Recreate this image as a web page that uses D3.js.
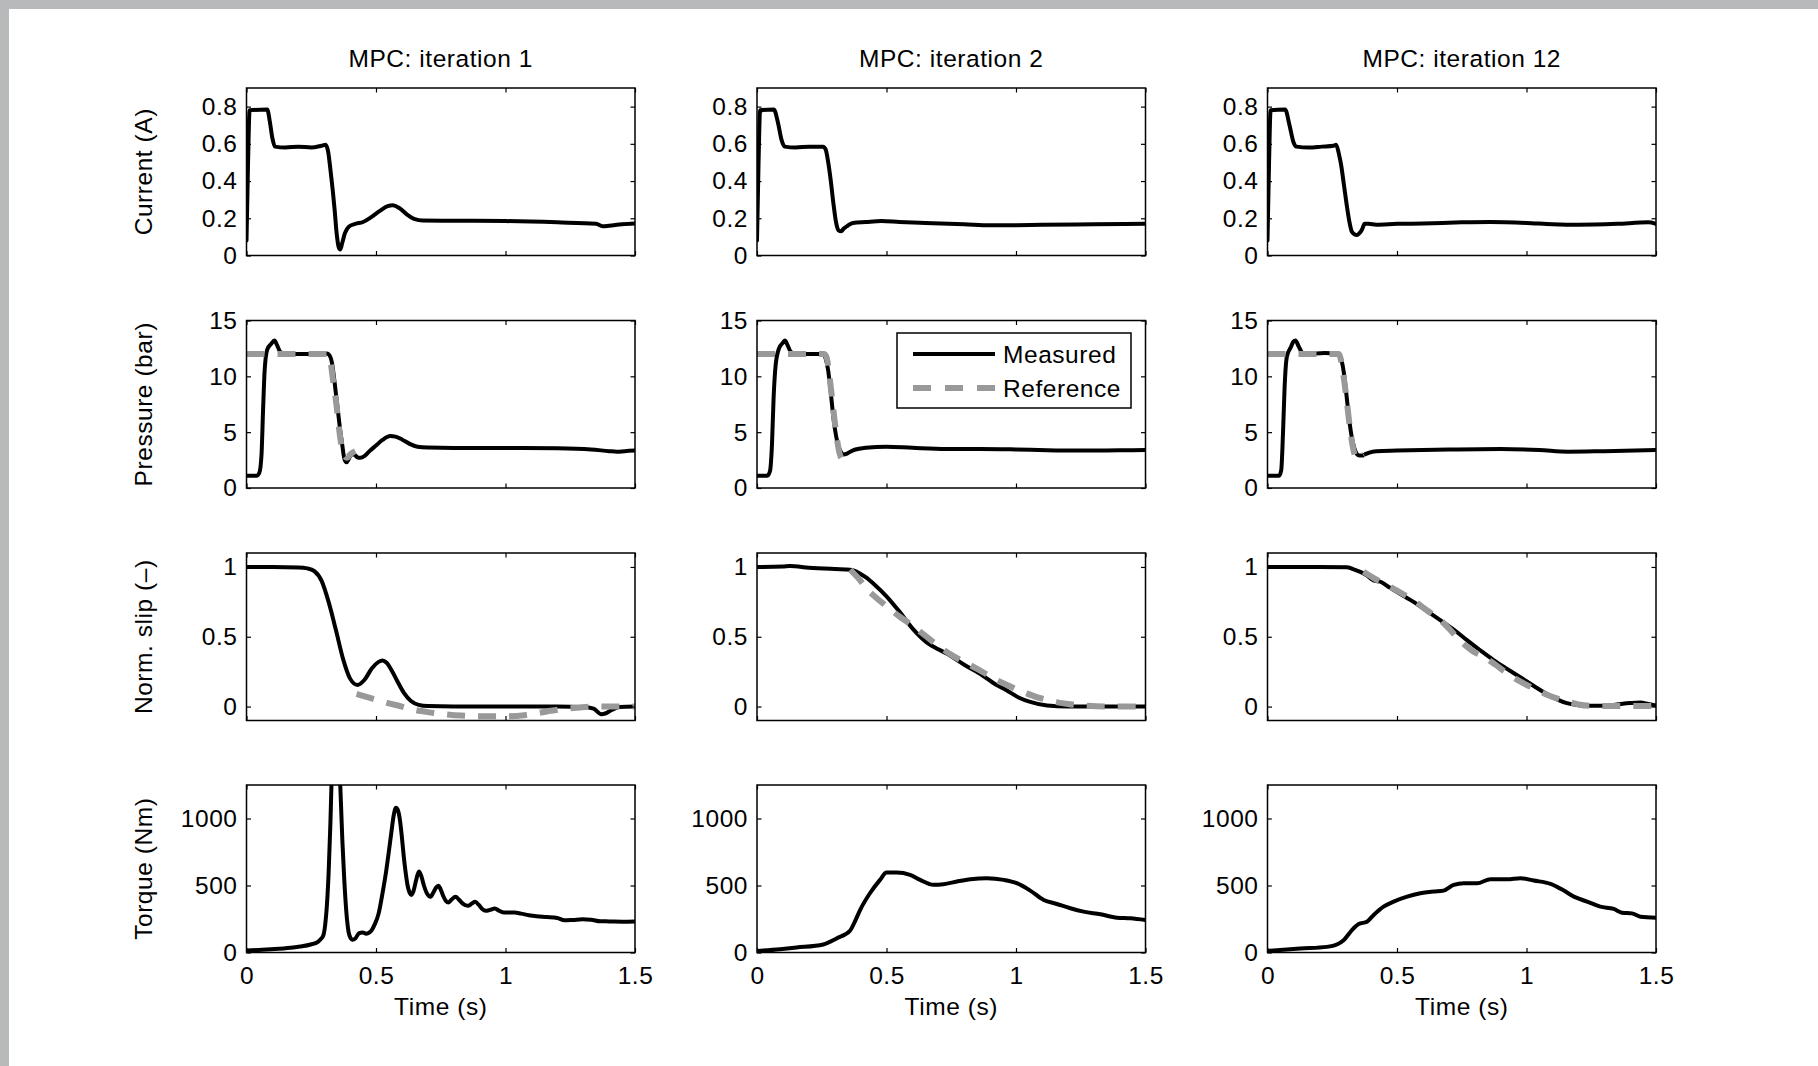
<!DOCTYPE html>
<html><head><meta charset="utf-8">
<script src="https://cdn.jsdelivr.net/npm/d3@7"></script>
<style>
html,body{margin:0;padding:0;background:#fff;}
svg{display:block;}
svg text{letter-spacing:0.55px;}
</style></head><body>
<svg id="chart" width="1818" height="1066"></svg>
<script>
// ---------- labels & ticks ----------
const columnTitles = ["MPC: iteration 1", "MPC: iteration 2", "MPC: iteration 12"];
const rowLabels = ["Current (A)", "Pressure (bar)", "Norm. slip (\u2013)", "Torque (Nm)"];
const timeLabel = "Time (s)";
const legendLabels = ["Measured", "Reference"];
const timeTicks = [0, 0.5, 1, 1.5];
const currentTicks = [0, 0.2, 0.4, 0.6, 0.8];
const pressureTicks = [0, 5, 10, 15];
const slipTicks = [0, 0.5, 1];
const torqueTicks = [0, 500, 1000];
const timeDomain = [0, 1.5];
const currentDomain = [0, 0.9];
const pressureDomain = [0, 15];
const slipDomain = [-0.1, 1.1];
const torqueDomain = [0, 1250];

// ---------- current (A) ----------
const current1 = [[0,0.08],[0.006,0.5],[0.012,0.78],[0.08,0.785],[0.09,0.72],[0.1,0.63],[0.11,0.585],[0.15,0.58],[0.2,0.585],[0.25,0.58],[0.29,0.59],[0.305,0.595],[0.315,0.56],[0.325,0.45],[0.333,0.35],[0.34,0.25],[0.348,0.12],[0.356,0.045],[0.362,0.032],[0.37,0.07],[0.38,0.12],[0.395,0.155],[0.42,0.17],[0.45,0.18],[0.48,0.205],[0.515,0.24],[0.545,0.265],[0.565,0.27],[0.59,0.255],[0.62,0.22],[0.65,0.195],[0.68,0.188],[0.8,0.187],[1.0,0.185],[1.2,0.178],[1.35,0.17],[1.375,0.157],[1.4,0.16],[1.45,0.168],[1.5,0.172]];
const current2 = [[0,0.08],[0.006,0.5],[0.012,0.78],[0.065,0.785],[0.08,0.72],[0.095,0.62],[0.107,0.585],[0.15,0.58],[0.2,0.585],[0.255,0.585],[0.265,0.57],[0.275,0.5],[0.285,0.4],[0.295,0.28],[0.305,0.18],[0.315,0.135],[0.325,0.13],[0.335,0.145],[0.35,0.16],[0.37,0.175],[0.42,0.18],[0.48,0.185],[0.55,0.18],[0.65,0.175],[0.8,0.168],[0.9,0.162],[1.0,0.163],[1.1,0.165],[1.3,0.168],[1.5,0.17]];
const current12 = [[0,0.08],[0.006,0.5],[0.012,0.78],[0.068,0.785],[0.085,0.7],[0.1,0.61],[0.112,0.585],[0.16,0.58],[0.21,0.585],[0.255,0.59],[0.265,0.595],[0.275,0.55],[0.285,0.48],[0.295,0.38],[0.305,0.28],[0.315,0.19],[0.325,0.13],[0.335,0.115],[0.345,0.11],[0.355,0.12],[0.365,0.14],[0.375,0.17],[0.39,0.17],[0.42,0.165],[0.5,0.17],[0.6,0.172],[0.75,0.178],[0.86,0.18],[1.0,0.175],[1.1,0.168],[1.2,0.165],[1.35,0.17],[1.47,0.178],[1.5,0.17]];

// ---------- pressure (bar) ----------
const pressure1 = [[0,1.1],[0.04,1.1],[0.05,1.4],[0.058,3],[0.064,7],[0.07,10.5],[0.08,12.4],[0.095,12.9],[0.108,13.2],[0.118,12.8],[0.13,12.2],[0.15,12.0],[0.25,12.0],[0.31,12.05],[0.32,11.9],[0.33,11.2],[0.34,9.5],[0.35,7.5],[0.36,5.5],[0.37,3.8],[0.378,2.6],[0.386,2.3],[0.395,2.6],[0.405,3.0],[0.415,3.0],[0.428,2.75],[0.44,2.7],[0.455,2.85],[0.475,3.3],[0.5,3.8],[0.525,4.3],[0.555,4.65],[0.575,4.6],[0.6,4.35],[0.63,3.95],[0.66,3.7],[0.7,3.62],[0.8,3.58],[1.0,3.58],[1.2,3.55],[1.33,3.45],[1.4,3.3],[1.43,3.25],[1.46,3.3],[1.5,3.35]];
const pressureRef1 = [[0,12],[0.315,12],[0.325,11.2],[0.335,9.5],[0.347,7.5],[0.358,5.2],[0.368,3.6],[0.378,2.9],[0.388,2.7],[0.4,3.0],[0.412,3.2],[0.42,3.3]];
const pressure2 = [[0,1.1],[0.04,1.1],[0.05,1.5],[0.058,4],[0.064,8],[0.072,11],[0.085,12.5],[0.1,13.0],[0.108,13.2],[0.118,12.8],[0.13,12.2],[0.15,12.0],[0.2,12.0],[0.255,12.0],[0.265,11.6],[0.275,10.5],[0.285,8.5],[0.295,6.3],[0.305,4.7],[0.315,3.7],[0.325,3.2],[0.335,3.0],[0.345,3.05],[0.36,3.25],[0.38,3.45],[0.42,3.6],[0.5,3.7],[0.6,3.6],[0.73,3.5],[0.86,3.5],[1.0,3.45],[1.12,3.38],[1.25,3.35],[1.4,3.38],[1.5,3.4]];
const pressureRef2 = [[0,12],[0.26,12],[0.27,11.6],[0.28,10],[0.29,8],[0.3,6],[0.31,4.2],[0.32,3.0],[0.33,2.6],[0.34,2.8],[0.355,3.2]];
const pressure12 = [[0,1.1],[0.045,1.1],[0.053,1.6],[0.06,5],[0.066,9],[0.075,11.8],[0.09,12.6],[0.1,13.1],[0.108,13.2],[0.12,12.7],[0.135,12.1],[0.15,12.0],[0.22,12.1],[0.275,12.0],[0.285,11.5],[0.295,10.3],[0.305,8.3],[0.315,6.2],[0.325,4.6],[0.335,3.6],[0.345,3.05],[0.355,2.9],[0.365,2.9],[0.375,3.0],[0.39,3.15],[0.42,3.3],[0.5,3.35],[0.7,3.45],[0.9,3.5],[1.05,3.4],[1.16,3.25],[1.3,3.3],[1.5,3.4]];
const pressureRef12 = [[0,12],[0.275,12],[0.285,11.3],[0.295,9.8],[0.305,8],[0.315,6],[0.325,4.3],[0.335,3.1],[0.345,2.6],[0.355,2.7],[0.365,2.9],[0.372,3.0]];

// ---------- normalised slip (-) ----------
const slip1 = [[0,1.0],[0.1,1.0],[0.2,0.997],[0.235,0.99],[0.262,0.97],[0.29,0.9],[0.317,0.75],[0.345,0.55],[0.373,0.34],[0.4,0.2],[0.428,0.155],[0.455,0.19],[0.483,0.27],[0.51,0.32],[0.525,0.33],[0.54,0.315],[0.56,0.26],[0.58,0.19],[0.607,0.1],[0.635,0.04],[0.665,0.012],[0.7,0.003],[0.8,0.0],[1.0,0.0],[1.2,0.0],[1.3,-0.003],[1.34,-0.015],[1.37,-0.055],[1.385,-0.05],[1.41,-0.025],[1.44,-0.003],[1.5,0.0]];
const slipRef1 = [[0.425,0.09],[0.48,0.06],[0.54,0.028],[0.6,0.0],[0.64,-0.02],[0.7,-0.04],[0.75,-0.052],[0.83,-0.065],[0.9,-0.07],[1.0,-0.07],[1.08,-0.06],[1.16,-0.035],[1.22,-0.018],[1.28,-0.008],[1.35,0.0],[1.5,0.0]];
const slip2 = [[0,1.0],[0.1,1.003],[0.127,1.006],[0.2,0.995],[0.3,0.985],[0.36,0.98],[0.38,0.97],[0.4,0.95],[0.425,0.92],[0.45,0.88],[0.5,0.79],[0.55,0.68],[0.6,0.56],[0.655,0.46],[0.7,0.41],[0.732,0.38],[0.8,0.3],[0.861,0.235],[0.92,0.16],[0.965,0.115],[1.01,0.065],[1.055,0.033],[1.12,0.007],[1.2,0.0],[1.5,0.0]];
const slipRef2 = [[0.36,0.98],[0.4,0.9],[0.425,0.84],[0.46,0.78],[0.5,0.72],[0.55,0.645],[0.6,0.58],[0.655,0.5],[0.7,0.435],[0.75,0.37],[0.81,0.31],[0.85,0.27],[0.887,0.23],[0.93,0.185],[0.965,0.155],[1.0,0.125],[1.04,0.095],[1.08,0.068],[1.12,0.048],[1.16,0.03],[1.2,0.018],[1.275,0.005],[1.35,0.0],[1.5,0.0]];
const slip12 = [[0,1.0],[0.2,1.0],[0.306,0.998],[0.33,0.985],[0.358,0.965],[0.383,0.94],[0.4,0.915],[0.415,0.9],[0.435,0.895],[0.461,0.865],[0.51,0.81],[0.564,0.75],[0.615,0.685],[0.667,0.619],[0.72,0.55],[0.77,0.476],[0.82,0.405],[0.873,0.333],[0.925,0.27],[0.976,0.21],[1.03,0.145],[1.079,0.09],[1.12,0.05],[1.156,0.024],[1.2,0.01],[1.233,0.005],[1.29,0.005],[1.337,0.012],[1.4,0.025],[1.44,0.029],[1.47,0.018],[1.5,0.007]];
const slipRef12 = [[0.371,0.965],[0.41,0.92],[0.461,0.87],[0.5,0.83],[0.564,0.76],[0.615,0.69],[0.667,0.62],[0.7,0.56],[0.745,0.47],[0.79,0.4],[0.835,0.357],[0.88,0.3],[0.925,0.238],[0.975,0.18],[1.027,0.131],[1.079,0.085],[1.13,0.05],[1.16,0.035],[1.2,0.015],[1.25,0.005],[1.35,0.003],[1.5,0.005]];

// ---------- torque (Nm) ----------
const torque1 = [[0,15],[0.06,20],[0.124,28],[0.18,38],[0.207,45],[0.248,60],[0.276,80],[0.287,100],[0.297,130],[0.304,210],[0.31,340],[0.317,590],[0.324,967],[0.328,1250],[0.335,1700],[0.345,1950],[0.355,1700],[0.362,1250],[0.37,840],[0.377,560],[0.384,340],[0.392,180],[0.4,115],[0.41,95],[0.42,105],[0.435,145],[0.448,150],[0.462,140],[0.475,150],[0.483,165],[0.495,210],[0.51,290],[0.524,430],[0.538,591],[0.55,760],[0.559,892],[0.568,1020],[0.577,1080],[0.585,1060],[0.593,980],[0.6,860],[0.607,720],[0.615,590],[0.622,500],[0.63,445],[0.637,430],[0.645,460],[0.655,540],[0.666,604],[0.675,570],[0.685,500],[0.697,440],[0.711,416],[0.722,450],[0.732,485],[0.741,499],[0.75,470],[0.76,420],[0.77,385],[0.78,373],[0.792,395],[0.807,416],[0.82,395],[0.835,365],[0.855,348],[0.87,365],[0.883,378],[0.897,355],[0.91,325],[0.924,311],[0.94,318],[0.959,328],[0.975,312],[0.995,298],[1.035,298],[1.06,290],[1.09,278],[1.12,270],[1.16,265],[1.2,258],[1.228,240],[1.26,243],[1.297,248],[1.33,245],[1.366,233],[1.4,232],[1.45,230],[1.5,232]];
const torque2 = [[0,12],[0.089,25],[0.153,37],[0.256,60],[0.307,105],[0.359,162],[0.38,240],[0.398,317],[0.436,442],[0.475,542],[0.5,597],[0.539,597],[0.591,580],[0.63,542],[0.681,505],[0.72,510],[0.772,530],[0.824,547],[0.888,555],[0.953,542],[1.003,517],[1.055,462],[1.107,392],[1.158,362],[1.21,330],[1.261,305],[1.326,285],[1.39,260],[1.442,255],[1.5,242]];
const torque12 = [[0,12],[0.126,30],[0.229,42],[0.268,60],[0.294,92],[0.326,167],[0.352,212],[0.384,230],[0.41,280],[0.448,342],[0.487,380],[0.539,417],[0.59,442],[0.642,455],[0.68,462],[0.719,505],[0.758,517],[0.809,517],[0.861,547],[0.925,547],[0.977,555],[1.028,537],[1.093,512],[1.144,462],[1.183,417],[1.234,380],[1.285,342],[1.337,325],[1.369,297],[1.407,292],[1.44,267],[1.5,260]];

// ---------- assembly ----------
const rowDomains = [currentDomain, pressureDomain, slipDomain, torqueDomain];
const rowTicks = [currentTicks, pressureTicks, slipTicks, torqueTicks];
const measuredSeries = [
  [current1, pressure1, slip1, torque1],
  [current2, pressure2, slip2, torque2],
  [current12, pressure12, slip12, torque12]
];
const referenceSeries = [
  [null, pressureRef1, slipRef1, null],
  [null, pressureRef2, slipRef2, null],
  [null, pressureRef12, slipRef12, null]
];

const FONT = "'Liberation Sans', Arial, Helvetica, sans-serif";
const FS = 24.5;
const colLeft = [246.5, 757, 1267.5];
const plotW = 388.5;
const rowTop = [88, 320.5, 553, 785];
const plotH = 167.5;
const TICK = 4.5;
const REF_DASH = "18,13";

const svg = d3.select("#chart");
svg.append("rect").attr("width", 1818).attr("height", 1066).attr("fill", "#b8b9bb");
svg.append("rect").attr("x", 9).attr("y", 9).attr("width", 1809).attr("height", 1057).attr("fill", "#ffffff");

const fmt = d => String(d);

columnTitles.forEach((title, c) => {
  const L = colLeft[c];
  svg.append("text").attr("x", L + plotW / 2).attr("y", 67)
    .attr("text-anchor", "middle").attr("font-family", FONT).attr("font-size", FS)
    .attr("fill", "#000").text(title);

  rowDomains.forEach((dom, r) => {
    const T = rowTop[r];
    const x = d3.scaleLinear().domain(timeDomain).range([L, L + plotW]);
    const y = d3.scaleLinear().domain(dom).range([T + plotH, T]);
    const g = svg.append("g");
    const clipId = `clip-${c}-${r}`;
    g.append("clipPath").attr("id", clipId).append("rect")
      .attr("x", L).attr("y", T).attr("width", plotW).attr("height", plotH);

    const line = d3.line().x(d => x(d[0])).y(d => y(d[1])).curve(d3.curveMonotoneX);
    const plotG = g.append("g").attr("clip-path", `url(#${clipId})`);
    plotG.append("path").datum(measuredSeries[c][r]).attr("d", line)
      .attr("fill", "none").attr("stroke", "#000").attr("stroke-width", 4)
      .attr("stroke-linejoin", "round").attr("stroke-linecap", "round");
    if (referenceSeries[c][r]) {
      plotG.append("path").datum(referenceSeries[c][r]).attr("d", line)
        .attr("fill", "none").attr("stroke", "#999999").attr("stroke-width", 6)
        .attr("stroke-dasharray", REF_DASH).attr("stroke-linecap", "butt");
    }

    // axes (MATLAB style inward ticks on all four sides)
    const yl = g.append("g").attr("transform", `translate(${L},0)`)
      .call(d3.axisLeft(y).tickValues(rowTicks[r]).tickSizeInner(-TICK).tickSizeOuter(0).tickPadding(9).tickFormat(fmt));
    const yr = g.append("g").attr("transform", `translate(${L + plotW},0)`)
      .call(d3.axisRight(y).tickValues(rowTicks[r]).tickSizeInner(-TICK).tickSizeOuter(0).tickFormat(""));
    const xb = g.append("g").attr("transform", `translate(0,${T + plotH})`)
      .call(d3.axisBottom(x).tickValues(timeTicks).tickSizeInner(-TICK).tickSizeOuter(0).tickPadding(14)
        .tickFormat(r === 3 ? fmt : ""));
    const xt = g.append("g").attr("transform", `translate(0,${T})`)
      .call(d3.axisTop(x).tickValues(timeTicks).tickSizeInner(-TICK).tickSizeOuter(0).tickFormat(""));
    [yl, yr, xb, xt].forEach(a => {
      a.select(".domain").remove();
      a.attr("font-family", FONT).attr("font-size", FS);
      a.selectAll(".tick line").attr("stroke", "#000").attr("stroke-width", 1.2);
      a.selectAll(".tick text").attr("fill", "#000");
    });

    g.append("rect").attr("x", L).attr("y", T).attr("width", plotW).attr("height", plotH)
      .attr("fill", "none").attr("stroke", "#000").attr("stroke-width", 1.5);

    if (c === 0) {
      svg.append("text")
        .attr("transform", `translate(152,${T + plotH / 2}) rotate(-90)`)
        .attr("text-anchor", "middle").attr("font-family", FONT).attr("font-size", FS)
        .attr("fill", "#000").text(rowLabels[r]);
    }
    if (r === 3) {
      svg.append("text").attr("x", L + plotW / 2).attr("y", 1015)
        .attr("text-anchor", "middle").attr("font-family", FONT).attr("font-size", FS)
        .attr("fill", "#000").text(timeLabel);
    }
    if (c === 1 && r === 1) {
      const lx = L + 140, ly = T + 12.5;
      const lg = svg.append("g");
      lg.append("rect").attr("x", lx).attr("y", ly).attr("width", 234).attr("height", 75)
        .attr("fill", "#fff").attr("stroke", "#000").attr("stroke-width", 1.5);
      const entries = [{stroke: "#000", w: 4, dash: null}, {stroke: "#999999", w: 6, dash: "18,14"}];
      entries.forEach((e, i) => {
        const yy = ly + 21 + i * 34;
        lg.append("line").attr("x1", lx + 16).attr("x2", lx + 98).attr("y1", yy).attr("y2", yy)
          .attr("stroke", e.stroke).attr("stroke-width", e.w)
          .attr("stroke-dasharray", e.dash);
        lg.append("text").attr("x", lx + 106).attr("y", yy).attr("dy", "0.35em")
          .attr("font-family", FONT).attr("font-size", FS).attr("fill", "#000").text(legendLabels[i]);
      });
    }
  });
});
</script>
</body></html>
